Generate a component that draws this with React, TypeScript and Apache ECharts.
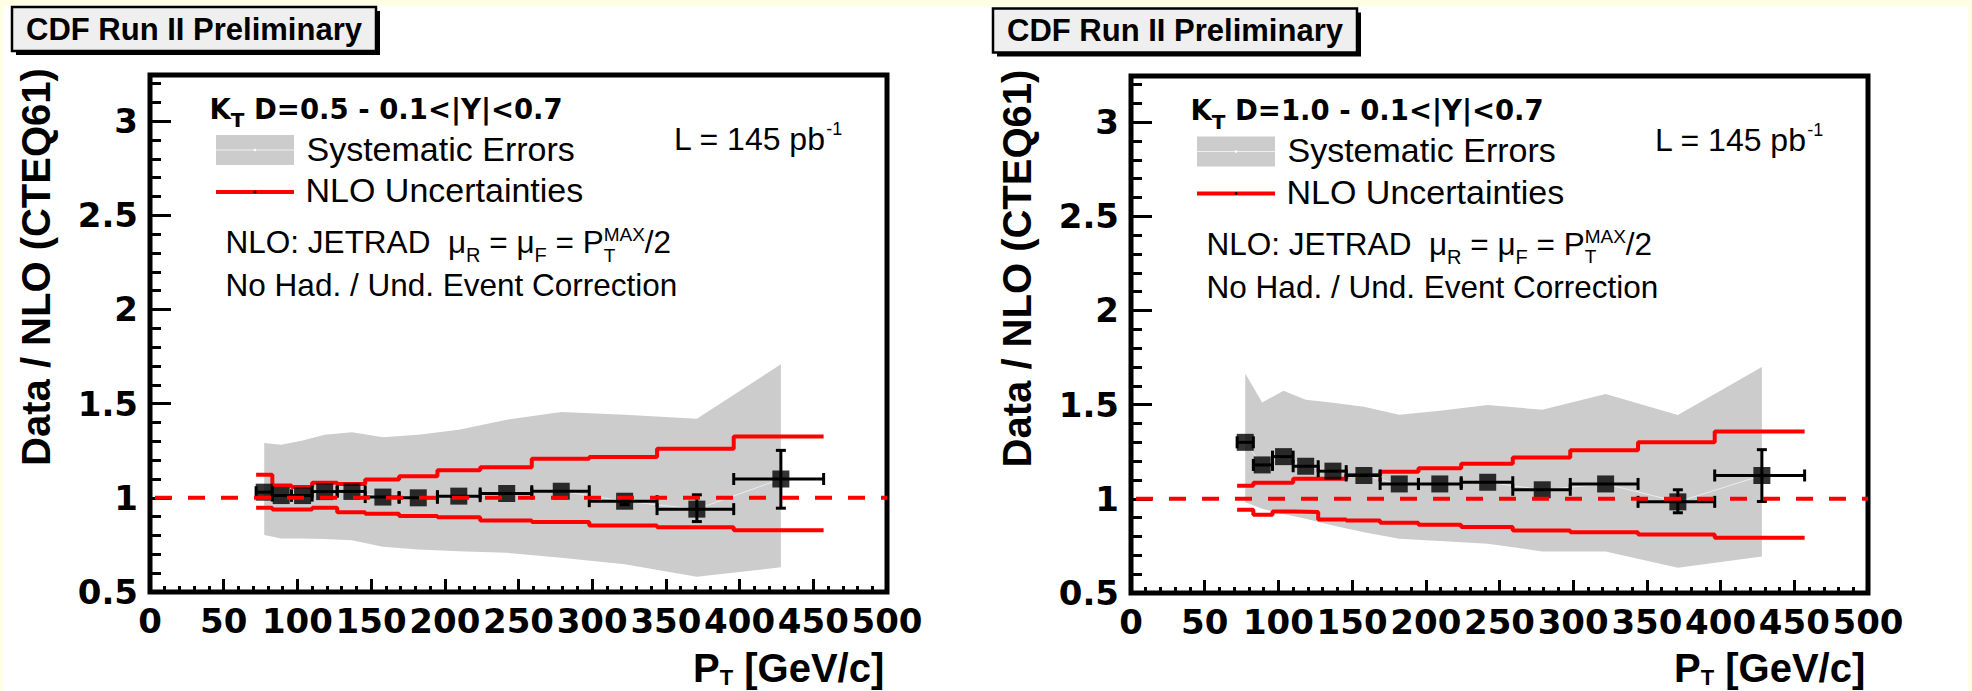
import React, { useEffect, useRef } from "react";
import * as echarts from "echarts";

const SANS = '"Liberation Sans", Arial, Helvetica, sans-serif';
const DJ = '"DejaVu Sans", Verdana, sans-serif';

// ---------- data ----------
const binEdges = [72, 83, 96, 110, 127, 146, 169, 195, 224, 259, 298, 344, 396, 457];
const ptCenters = [77.5, 89, 103.5, 118.5, 137, 158, 182, 209.5, 242, 279, 322, 371, 428];
const yTickLabels = [0.5, 1, 1.5, 2, 2.5, 3];
const xTickLabels = [0, 50, 100, 150, 200, 250, 300, 350, 400, 450, 500];

// D = 0.5
const ratioD05 = [1.03, 1.012, 1.012, 1.033, 1.034, 1.004, 1.0, 1.009, 1.023, 1.035, 0.982, 0.94, 1.1];
const errUpD05 = [0, 0, 0, 0, 0, 0, 0, 0, 0, 0, 0.018, 0.076, 0.152];
const errDnD05 = [0, 0, 0, 0, 0, 0, 0, 0, 0, 0, 0.018, 0.066, 0.155];
const sysUpD05 = [1.291, 1.282, 1.305, 1.335, 1.348, 1.321, 1.335, 1.362, 1.415, 1.456, 1.441, 1.42, 1.709];
const sysDnD05 = [0.802, 0.784, 0.784, 0.782, 0.775, 0.74, 0.726, 0.717, 0.708, 0.682, 0.647, 0.581, 0.631];
const nloUpD05 = [1.123, 1.065, 1.058, 1.08, 1.074, 1.097, 1.114, 1.146, 1.162, 1.207, 1.217, 1.261, 1.326];
const nloDnD05 = [0.947, 0.938, 0.938, 0.947, 0.924, 0.915, 0.903, 0.897, 0.88, 0.871, 0.853, 0.844, 0.828];

// D = 1.0
const ratioD10 = [1.3, 1.18, 1.224, 1.173, 1.147, 1.124, 1.079, 1.079, 1.088, 1.048, 1.079, 0.984, 1.124];
const errUpD10 = [0, 0, 0, 0, 0, 0, 0, 0, 0, 0, 0, 0.064, 0.137];
const errDnD10 = [0, 0, 0, 0, 0, 0, 0, 0, 0, 0, 0, 0.058, 0.138];
const sysUpD10 = [1.665, 1.512, 1.574, 1.526, 1.51, 1.489, 1.447, 1.468, 1.498, 1.473, 1.556, 1.445, 1.7];
const sysDnD10 = [0.982, 0.947, 0.92, 0.894, 0.859, 0.823, 0.788, 0.776, 0.762, 0.721, 0.721, 0.634, 0.694];
const nloUpD10 = [1.07, 1.086, 1.086, 1.107, 1.107, 1.127, 1.144, 1.162, 1.186, 1.22, 1.258, 1.3, 1.357];
const nloDnD10 = [0.942, 0.915, 0.933, 0.93, 0.89, 0.885, 0.873, 0.862, 0.85, 0.832, 0.823, 0.811, 0.793];

const panels = [
  { label: "D=0.5 - 0.1<|Y|<0.7", ratio: ratioD05, errUp: errUpD05, errDn: errDnD05, sysUp: sysUpD05, sysDn: sysDnD05, nloUp: nloUpD05, nloDn: nloDnD05, dx: 0, dy: 0 },
  { label: "D=1.0 - 0.1<|Y|<0.7", ratio: ratioD10, errUp: errUpD10, errDn: errDnD10, sysUp: sysUpD10, sysDn: sysDnD10, nloUp: nloUpD10, nloDn: nloDnD10, dx: 981, dy: 1.5 },
];

// ---------- text layout helpers ----------
let mctx: CanvasRenderingContext2D | null = null;
function textWidth(t: string, size: number, bold: boolean, fam: string) {
  if (!mctx) mctx = document.createElement("canvas").getContext("2d");
  if (!mctx) return t.length * size * 0.55;
  mctx.font = `${bold ? "bold " : ""}${size}px ${fam}`;
  return mctx.measureText(t).width;
}

type Seg = { t: string; size: number; bold?: boolean; fam?: string; dy?: number; stack?: boolean };
function layText(segs: Seg[], x0: number, base: number, z = 60) {
  const out: any[] = [];
  let cursor = x0;
  let lastStart = x0;
  let lastEnd = x0;
  for (const s of segs) {
    const fam = s.fam || SANS;
    const bold = !!s.bold;
    const start = s.stack ? lastStart : cursor;
    const lead = (s.t.match(/^\s*/) || [""])[0];
    const body = s.t.slice(lead.length);
    const leadW = lead ? textWidth(lead, s.size, bold, fam) : 0;
    const fullW = textWidth(s.t, s.size, bold, fam);
    out.push({
      type: "text",
      z,
      silent: true,
      x: start + leadW,
      y: base + (s.dy || 0) - 0.346 * s.size,
      style: {
        text: body,
        fontSize: s.size,
        fontWeight: bold ? "bold" : "normal",
        fontFamily: fam,
        fill: "#000",
        align: "left",
        verticalAlign: "middle",
      },
    });
    const end = start + fullW;
    if (s.stack) {
      cursor = Math.max(lastEnd, end);
    } else {
      lastStart = start;
      cursor = end;
    }
    lastEnd = cursor;
  }
  return out;
}

function panelGraphics(p: (typeof panels)[number]) {
  const dx = p.dx;
  const dy = p.dy;
  const els: any[] = [];
  // CDF label box
  els.push({ type: "rect", silent: true, z: 40, shape: { x: 16 + dx, y: 11 + dy, width: 364, height: 44 }, style: { fill: "#000" } });
  els.push({ type: "rect", silent: true, z: 41, shape: { x: 12 + dx, y: 7 + dy, width: 364, height: 44 }, style: { fill: "#efefef", stroke: "#000", lineWidth: 2.5 } });
  els.push({
    type: "text", silent: true, z: 42, x: 194 + dx, y: 29.4 + dy,
    style: { text: "CDF Run II Preliminary", fontSize: 31, fontWeight: "bold", fontFamily: SANS, fill: "#000", align: "center", verticalAlign: "middle" },
  });
  // y axis title
  els.push({
    type: "text", silent: true, z: 42, x: 36 + dx, y: 267 + dy, rotation: Math.PI / 2,
    style: { text: "Data / NLO (CTEQ61)", fontSize: 40, fontWeight: "bold", fontFamily: SANS, fill: "#000", align: "center", verticalAlign: "middle" },
  });
  // x axis title
  els.push(...layText([
    { t: "P", size: 40, bold: true },
    { t: "T", size: 22, bold: true, dy: 3.5 },
    { t: " [GeV/c]", size: 40, bold: true },
  ], 693 + dx, 682));
  // K_T header
  els.push(...layText([
    { t: "K", size: 27.5, bold: true, fam: DJ },
    { t: "T", size: 20, bold: true, fam: DJ, dy: 8.5 },
    { t: " " + p.label, size: 27.5, bold: true, fam: DJ },
  ], 209.5 + dx, 118.5 + dy));
  // legend: systematic errors
  els.push({ type: "rect", silent: true, z: 50, shape: { x: 216 + dx, y: 135 + dy, width: 78, height: 30 }, style: { fill: "#cccccc" } });
  els.push({ type: "line", silent: true, z: 51, shape: { x1: 216 + dx, y1: 150 + dy, x2: 294 + dx, y2: 150 + dy }, style: { stroke: "#eeeeee", lineWidth: 1 } });
  els.push({ type: "circle", silent: true, z: 52, shape: { cx: 255 + dx, cy: 150 + dy, r: 1.3 }, style: { fill: "#ffffff" } });
  els.push(...layText([{ t: "Systematic Errors", size: 34 }], 306.5 + dx, 160.5 + dy));
  // legend: NLO uncertainties
  els.push({ type: "line", silent: true, z: 51, shape: { x1: 216 + dx, y1: 192 + dy, x2: 294 + dx, y2: 192 + dy }, style: { stroke: "#ff0000", lineWidth: 4 } });
  els.push({ type: "circle", silent: true, z: 52, shape: { cx: 255 + dx, cy: 192 + dy, r: 1.5 }, style: { fill: "#000" } });
  els.push(...layText([{ t: "NLO Uncertainties", size: 34 }], 305.5 + dx, 202 + dy));
  // NLO description
  els.push(...layText([
    { t: "NLO: JETRAD", size: 31.5 },
    { t: "  \u03bc", size: 31.5 },
    { t: "R", size: 20, dy: 9 },
    { t: " = \u03bc", size: 31.5 },
    { t: "F", size: 20, dy: 9 },
    { t: " = P", size: 31.5 },
    { t: "MAX", size: 19, dy: -11.5 },
    { t: "T", size: 19, dy: 9, stack: true },
    { t: "/2", size: 31.5 },
  ], 225.6 + dx, 253 + dy));
  els.push(...layText([{ t: "No Had. / Und. Event Correction", size: 31.5 }], 225.6 + dx, 296 + dy));
  // luminosity
  els.push(...layText([
    { t: "L = 145 pb", size: 32 },
    { t: "-1", size: 18, dy: -15 },
  ], 674 + dx, 150 + dy));
  return els;
}

function buildOption() {
  const grids = [
    { left: 150, top: 75, width: 737, height: 517 },
    { left: 1131, top: 76, width: 737, height: 517 },
  ];
  const tickStyle = { color: "#000", width: 3 };
  const xAxes = grids.map((_, i) => ({
    type: "value", gridIndex: i, min: 0, max: 500, interval: 50,
    axisLine: { show: false },
    axisTick: { show: true, inside: true, length: 13, lineStyle: tickStyle },
    minorTick: { show: true, splitNumber: 5, length: 6, lineStyle: tickStyle },
    axisLabel: {
      margin: 12, fontSize: 34, fontWeight: "bold", fontFamily: DJ, color: "#000",
      formatter: (v: number) => (xTickLabels.some((t) => Math.abs(t - v) < 1e-6) ? String(Math.round(v)) : ""),
    },
    splitLine: { show: false },
  }));
  const yAxes: any[] = [];
  grids.forEach((_, i) => {
    yAxes.push({
      type: "value", gridIndex: i, position: "left", min: 0.5, max: 3.245, interval: 0.5,
      axisLine: { show: false },
      axisTick: { show: true, inside: true, length: 21, lineStyle: tickStyle },
      axisLabel: {
        margin: 12, fontSize: 34, fontWeight: "bold", fontFamily: DJ, color: "#000",
        formatter: (v: number) => (yTickLabels.some((t) => Math.abs(t - v) < 1e-6) ? String(Math.round(v * 10) / 10) : ""),
      },
      splitLine: { show: false },
    });
    yAxes.push({
      type: "value", gridIndex: i, position: "left", min: 0.5, max: 3.245, interval: 0.1,
      axisLine: { show: false },
      axisTick: { show: true, inside: true, length: 11, lineStyle: tickStyle },
      axisLabel: { show: false },
      splitLine: { show: false },
    });
  });

  const series: any[] = [];
  panels.forEach((p, i) => {
    const xi = i;
    const yi = 2 * i;
    // systematic band
    series.push({
      type: "custom", xAxisIndex: xi, yAxisIndex: yi, z: 1, silent: true,
      data: ptCenters.map((x, k) => [x, p.sysUp[k], p.sysDn[k]]),
      encode: { x: 0, y: [1, 2] },
      renderItem: (params: any, api: any) => {
        if (params.dataIndex !== 0) return null;
        const pts: number[][] = [];
        for (let k = 0; k < ptCenters.length; k++) pts.push(api.coord([ptCenters[k], p.sysUp[k]]));
        for (let k = ptCenters.length - 1; k >= 0; k--) pts.push(api.coord([ptCenters[k], p.sysDn[k]]));
        return { type: "polygon", shape: { points: pts }, style: { fill: "#cccccc" } };
      },
    });
    // faint connecting line (graph line)
    series.push({
      type: "line", xAxisIndex: xi, yAxisIndex: yi, z: 2, silent: true, symbol: "none",
      data: ptCenters.map((x, k) => [x, p.ratio[k]]),
      lineStyle: { color: "#ececec", width: 1 },
    });
    // NLO uncertainty steps
    [p.nloUp, p.nloDn].forEach((vals) => {
      series.push({
        type: "line", xAxisIndex: xi, yAxisIndex: yi, z: 3, silent: true, symbol: "none", step: "end",
        data: binEdges.map((e, k) => [e, vals[Math.min(k, vals.length - 1)]]),
        lineStyle: { color: "#ff0000", width: 4 },
      });
    });
    // error bars
    series.push({
      type: "custom", xAxisIndex: xi, yAxisIndex: yi, z: 4, silent: true,
      data: ptCenters.map((x, k) => [x, p.ratio[k], binEdges[k], binEdges[k + 1], p.ratio[k] - p.errDn[k], p.ratio[k] + p.errUp[k]]),
      encode: { x: [0, 2, 3], y: [1, 4, 5] },
      renderItem: (_params: any, api: any) => {
        const x = api.value(0), y = api.value(1), xl = api.value(2), xh = api.value(3), yl = api.value(4), yh = api.value(5);
        const c = api.coord([x, y]);
        const l = api.coord([xl, y]);
        const h = api.coord([xh, y]);
        const st = { stroke: "#000", lineWidth: 3 };
        const children: any[] = [
          { type: "line", shape: { x1: l[0], y1: c[1], x2: h[0], y2: c[1] }, style: st },
          { type: "line", shape: { x1: l[0], y1: c[1] - 6, x2: l[0], y2: c[1] + 6 }, style: st },
          { type: "line", shape: { x1: h[0], y1: c[1] - 6, x2: h[0], y2: c[1] + 6 }, style: st },
        ];
        if (yh - yl > 1e-6) {
          const t = api.coord([x, yh]);
          const b = api.coord([x, yl]);
          children.push({ type: "line", shape: { x1: c[0], y1: t[1], x2: c[0], y2: b[1] }, style: st });
          children.push({ type: "line", shape: { x1: c[0] - 5, y1: t[1], x2: c[0] + 5, y2: t[1] }, style: st });
          children.push({ type: "line", shape: { x1: c[0] - 5, y1: b[1], x2: c[0] + 5, y2: b[1] }, style: st });
        }
        return { type: "group", children };
      },
    });
    // markers
    series.push({
      type: "scatter", xAxisIndex: xi, yAxisIndex: yi, z: 5, silent: true,
      symbol: "rect", symbolSize: 17,
      itemStyle: { color: "#000" },
      data: ptCenters.map((x, k) => [x, p.ratio[k]]),
    });
    // reference line at 1
    series.push({
      type: "line", xAxisIndex: xi, yAxisIndex: yi, z: 6, silent: true, symbol: "none",
      data: [[0, 1], [500, 1]],
      lineStyle: { color: "#ff0000", width: 4, type: [17, 16], dashOffset: 28 },
    });
  });

  const graphics: any[] = [
    { type: "rect", silent: true, z: 1, shape: { x: 0, y: 0, width: 1972, height: 6 }, style: { fill: "#fefee4" } },
    { type: "rect", silent: true, z: 1, shape: { x: 0, y: 0, width: 3, height: 691 }, style: { fill: "#fefee4" } },
    { type: "rect", silent: true, z: 1, shape: { x: 1968, y: 0, width: 4, height: 691 }, style: { fill: "#fefee4" } },
  ];
  panels.forEach((p) => graphics.push(...panelGraphics(p)));

  return {
    animation: false,
    backgroundColor: "#ffffff",
    grid: grids.map((g) => ({ ...g, show: true, borderColor: "#000", borderWidth: 5, backgroundColor: "transparent", containLabel: false })),
    xAxis: xAxes,
    yAxis: yAxes,
    series,
    graphic: { elements: graphics },
  };
}

export default function App() {
  const ref = useRef<HTMLDivElement>(null);
  useEffect(() => {
    if (!ref.current) return;
    const chart = echarts.init(ref.current, undefined, { renderer: "svg" });
    chart.setOption(buildOption() as any);
    return () => chart.dispose();
  }, []);
  return <div ref={ref} style={{ position: "absolute", left: 0, top: 0, width: 1972, height: 691 }} />;
}
